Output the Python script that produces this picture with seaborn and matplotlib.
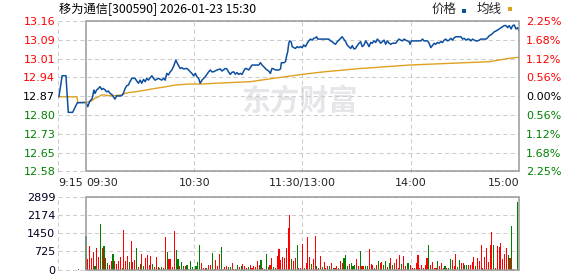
import matplotlib
matplotlib.use("Agg")
import matplotlib.pyplot as plt
import seaborn as sns
import pandas as pd
from matplotlib.patches import Rectangle

sns.set_theme(style="white")
plt.rcParams['font.family'] = ['DejaVu Sans', 'Noto Sans CJK SC']

# ---------------- data ----------------
title_text = "移为通信[300590] 2026-01-23 15:30"
legend_labels = ["价格", "均线"]
watermark = "东方财富"
prev_close = 12.87
half_range = 0.2896

price_tick_labels = ["12.58", "12.65", "12.73", "12.80", "12.87", "12.94", "13.01", "13.09", "13.16"]
pct_tick_labels = ["2.25%", "1.68%", "1.12%", "0.56%", "0.00%", "0.56%", "1.12%", "1.68%", "2.25%"]
vol_tick_values = [0, 725, 1450, 2174, 2899]
time_tick_min = [-15.5, 0, 60, 120, 180, 240]
time_tick_labels = ["9:15", "09:30", "10:30", "11:30/13:00", "14:00", "15:00"]

# minutes from 09:30 (negative = pre-market auction), price
price_min = [-15, -13.2, -11.1, -9.8, -7.4, -4.8, 0, 1, 2, 3.5, 4.4, 5, 5.9, 6.9, 7.8, 8.7,
             9.6, 10.6, 11.5, 12.4, 13.3, 14.3, 15.2, 16.1, 17, 18, 19.8, 20.7, 21.7, 22.6,
             23.5, 24.4, 25.4, 27.2, 28.1, 29.1, 30, 30.9, 31.9, 32.8, 33.7, 34.6, 35.6, 36.5,
             37.4, 38.3, 40.2, 42, 43, 43.9, 44.8, 45.7, 46.7, 47.6, 48.5, 49.8, 50.9, 52.2,
             53.1, 54.1, 55.9, 56.9, 57.8, 58.7, 59.6, 60.6, 61.5, 62.4, 63.3, 64.3, 65.2, 66.1,
             67, 68, 68.9, 69.8, 70.7, 72.6, 74.4, 75.4, 77.2, 78.1, 79, 80, 80.9, 81.9, 82.8,
             83.7, 84.6, 85.6, 86.5, 87.4, 88.3, 89.3, 90.2, 91.1, 92, 94.8, 95.7, 96.7, 97.6,
             98.5, 99.4, 100.4, 101.3, 102.2, 103.1, 104.1, 105, 106.9, 107.8, 108.3, 109.6,
             110.6, 111.1, 111.8, 112.4, 112.9, 113.7, 114.3, 115.2, 116.1, 117, 118, 118.9,
             119.8, 120.7, 121.7, 122.6, 123.5, 124.4, 125.4, 126.3, 127.2, 127.8, 128.5, 130,
             132.8, 134.6, 135.6, 136.5, 137.4, 138.3, 139.3, 140.2, 141.1, 142, 142.9, 143.9,
             144.8, 145.7, 146.7, 147.6, 148.5, 149.4, 150.4, 151.3, 152.2, 153.1, 154.1,
             155, 155.9, 156.9, 157.8, 158.7, 159.6, 160.6, 161.5, 162.4, 163.3, 164.3, 165.2,
             166.1, 167, 168, 168.9, 169.8, 171.7, 172.6, 173.5, 174.4, 175.4, 176.3, 177.2,
             178.1, 179.1, 179.6, 180.4, 182.8, 185.6, 186.5, 187.4, 189.3, 190.2, 191.1, 192,
             193, 193.9, 194.8, 195.7, 196.7, 197.6, 198.5, 199.4, 200.4, 201.3, 202.2, 203.1,
             204.1, 205, 206.9, 207.8, 208.7, 209.6, 210.6, 211.5, 212.4, 213.3, 214.3, 215.2,
             216.1, 217, 218, 218.9, 219.8, 221.7, 222.6, 223.5, 224.4, 225.4, 226.3, 227.2,
             228.1, 229.1, 230, 230.9, 231.9, 232.8, 233.7, 234.6, 235.6, 236.5, 237.4, 238.3,
             239.3, 240]
price_val = [12.868, 12.949, 12.949, 12.808, 12.808, 12.845, 12.846, 12.830, 12.849, 12.862,
             12.894, 12.881, 12.894, 12.900, 12.907, 12.896, 12.900, 12.894, 12.887, 12.890,
             12.881, 12.877, 12.868, 12.859, 12.872, 12.871, 12.872, 12.881, 12.900, 12.911,
             12.913, 12.926, 12.939, 12.939, 12.929, 12.920, 12.932, 12.920, 12.935, 12.926,
             12.939, 12.932, 12.941, 12.949, 12.939, 12.932, 12.939, 12.932, 12.939, 12.932,
             12.958, 12.952, 12.964, 12.971, 12.984, 13.009, 12.993, 12.977, 12.980, 12.975,
             12.977, 12.971, 12.964, 12.958, 12.949, 12.958, 12.945, 12.939, 12.920, 12.932,
             12.939, 12.945, 12.954, 12.964, 12.971, 12.964, 12.964, 12.971, 12.975, 12.967,
             12.977, 12.975, 12.964, 12.954, 12.962, 12.964, 12.955, 12.961, 12.954, 12.958,
             12.954, 12.967, 12.977, 12.975, 12.971, 12.980, 12.990, 12.990, 12.990, 12.999,
             12.990, 12.984, 12.977, 12.971, 12.967, 12.958, 12.977, 12.975, 12.971, 12.971,
             12.975, 12.999, 12.999, 13.003, 13.022, 13.041, 13.074, 13.083, 13.080, 13.061,
             13.057, 13.054, 13.061, 13.057, 13.061, 13.057, 13.067, 13.061, 13.074, 13.083,
             13.090, 13.086, 13.093, 13.095, 13.099, 13.090, 13.090, 13.090, 13.090, 13.083,
             13.080, 13.074, 13.070, 13.080, 13.086, 13.093, 13.099, 13.090, 13.080, 13.067,
             13.061, 13.054, 13.065, 13.052, 13.054, 13.065, 13.074, 13.080, 13.061, 13.067,
             13.083, 13.074, 13.061, 13.077, 13.074, 13.083, 13.077, 13.090, 13.083, 13.074,
             13.080, 13.086, 13.070, 13.083, 13.074, 13.070, 13.074, 13.074, 13.083, 13.090,
             13.086, 13.083, 13.090, 13.086, 13.083, 13.080, 13.070, 13.083, 13.083, 13.083,
             13.090, 13.083, 13.083, 13.074, 13.057, 13.065, 13.074, 13.070, 13.077, 13.074,
             13.080, 13.077, 13.086, 13.090, 13.083, 13.086, 13.093, 13.086, 13.095, 13.099,
             13.099, 13.099, 13.090, 13.093, 13.086, 13.090, 13.090, 13.083, 13.090, 13.086,
             13.083, 13.083, 13.086, 13.090, 13.090, 13.090, 13.095, 13.103, 13.106, 13.112,
             13.118, 13.121, 13.125, 13.129, 13.134, 13.138, 13.142, 13.142, 13.134, 13.142,
             13.129, 13.142, 13.144, 13.129, 13.134, 13.121]

avg_min = [-15, -5, -4.5, 0, 3.1, 5, 6.9, 8.7, 10.6, 12.4, 15.2, 19.8, 21.7, 23.5, 27.2, 30.9,
           36.5, 42, 49.4, 56.9, 64.3, 71.7, 91, 105, 119.8, 124.4, 131.9, 143, 152.2, 155,
           179, 203, 223.5, 234.6, 240]
avg_val = [12.868, 12.868, 12.846, 12.846, 12.852, 12.862, 12.868, 12.875, 12.875, 12.872,
           12.872, 12.875, 12.881, 12.884, 12.887, 12.891, 12.898, 12.904, 12.913, 12.917,
           12.917, 12.920, 12.926, 12.940, 12.954, 12.958, 12.964, 12.971, 12.977, 12.978,
           12.990, 12.997, 13.003, 13.016, 13.020]

# volume per minute (index 0 = 09:30), direction r = up, g = down
vol_val = [1337, 424, 940, 477, 702, 159, 874, 516, 1827, 874,
           940, 463, 252, 199, 357, 622, 344, 225, 344, 516,
           79, 1575, 344, 543, 305, 1152, 305, 384, 874, 119,
           225, 622, 159, 477, 583, 185, 543, 225, 106, 516,
           106, 79, 106, 66, 1311, 702, 424, 424, 119, 1536,
           781, 424, 146, 305, 146, 159, 185, 26, 344, 119,
           26, 146, 305, 980, 265, 53, 79, 66, 199, 199,
           662, 26, 371, 146, 622, 900, 26, 106, 146, 106,
           106, 265, 26, 26, 185, 106, 159, 225, 146, 66,
           106, 185, 66, 146, 106, 344, 185, 384, 66, 26,
           622, 106, 199, 463, 106, 66, 543, 821, 384, 503,
           463, 861, 1655, 2171, 424, 344, 463, 980, 53, 66,
           1020, 66, 265, 1298, 503, 225, 424, 1337, 146, 66,
           543, 119, 305, 66, 146, 146, 265, 66, 66, 146,
           66, 344, 265, 477, 583, 146, 225, 265, 146, 185,
           424, 146, 741, 146, 146, 159, 146, 821, 225, 185,
           66, 185, 344, 265, 305, 185, 344, 106, 265, 463,
           185, 265, 424, 66, 583, 225, 543, 146, 265, 265,
           185, 53, 66, 265, 583, 66, 185, 66, 185, 463,
           980, 185, 305, 53, 66, 344, 146, 265, 53, 146,
           53, 66, 424, 384, 146, 622, 106, 384, 265, 265,
           185, 185, 185, 185, 305, 503, 146, 463, 344, 980,
           66, 503, 861, 305, 980, 1496, 980, 66, 940, 900,
           1059, 424, 622, 861, 583, 463, 1734, 26, 0, 2688]
vol_dir = list("grrrrgrrgr" "grgrrgrrrr" "grrrgrrrgr" "grgrrrrgrr" "grgrrgrrrr"
               "ggrggrgrgg" "rgggrrrgrr" "grrrrgrrrg" "grgrgrgrrr" "grrrrrrgrg"
               "ggrrgrrrrr" "rrrrgrrgrr" "rgrrrgrrgr" "rgrrrgrgrr" "grrgggrggg"
               "rrgrrggrrr" "grgrrggrgr" "grrrrgrrgg" "rrrrrrrrrr" "grrrrgrrrg"
               "rggrrrggrr" "ggrrrrgrrr" "rrrrrrgrrr" "rrrrgrgrrg")
vol_min = list(range(240))
pre_vol_min = [-4]
pre_vol_val = [30]
pre_vol_dir = ["g"]

# ---------------- figure ----------------
W, H = 578, 276
fig = plt.figure(figsize=(W / 100, H / 100), dpi=100)
fig.patch.set_facecolor("white")

def fx(px):
    return px / W

def fy(py):
    return 1 - py / H

ax = fig.add_axes([fx(58), fy(171.5), fx(519) - fx(58), fy(21) - fy(171.5)])
axv = fig.add_axes([fx(58), fy(269.5), fx(519) - fx(58), fy(197) - fy(269.5)])

grid_col = "#cccccc"
box_col = "#999999"
dash = (0, (4, 3))
xlo, xhi = -15.5, 240

# price panel
ylo, yhi = prev_close - half_range, prev_close + half_range
price_ticks = [prev_close + half_range * k / 4 for k in range(-4, 5)]

for yv in price_ticks:
    ax.axhline(yv, color=grid_col, lw=0.75, ls=dash, zorder=0.5, clip_on=False)
for xv in [xlo, 60, 120, 180]:
    ax.axvline(xv, color=grid_col, lw=0.75, ls=dash, zorder=0.5, clip_on=False)

# faint watermark (text placed in figure pixel space)
ax.text(fx(241), fy(101), watermark, transform=fig.transFigure, ha="left", va="center",
        fontsize=21, fontweight="bold", color="#e6e6ea",
        family=["Noto Sans CJK SC", "DejaVu Sans"], zorder=0.3)

pdf = pd.DataFrame({"t": price_min, "p": price_val})
adf = pd.DataFrame({"t": avg_min, "p": avg_val})
sns.lineplot(data=adf, x="t", y="p", ax=ax, color="#E0A020", lw=1.0, estimator=None, zorder=2)
sns.lineplot(data=pdf, x="t", y="p", ax=ax, color="#0D4FA0", lw=1.1, estimator=None, zorder=3)

ax.add_patch(Rectangle((0, ylo), 240, yhi - ylo, fill=False, edgecolor=box_col, lw=1.1,
                       zorder=4, clip_on=False))
ax.set_xlim(xlo, xhi)
ax.set_ylim(ylo, yhi)
for s in ax.spines.values():
    s.set_visible(False)
ax.set_xlabel("")
ax.set_ylabel("")
ax.set_yticks(price_ticks)
ax.set_yticklabels(price_tick_labels)
ax.tick_params(axis="y", length=0, pad=2, labelsize=8)
for i, lab in enumerate(ax.get_yticklabels()):
    lab.set_color("#FF0000" if i > 4 else ("#000000" if i == 4 else "#008000"))
ax.set_xticks(time_tick_min)
ax.set_xticklabels(time_tick_labels)
ax.tick_params(axis="x", length=0, pad=5, labelsize=8)
xl = ax.get_xticklabels()
xl[0].set_ha("left")
xl[1].set_ha("left")
xl[-1].set_ha("right")

axr = ax.twinx()
axr.set_ylim(ylo, yhi)
axr.set_yticks(price_ticks)
axr.set_yticklabels(pct_tick_labels)
axr.tick_params(axis="y", length=0, pad=5, labelsize=8)
for s in axr.spines.values():
    s.set_visible(False)
for i, lab in enumerate(axr.get_yticklabels()):
    lab.set_color("#FF0000" if i > 4 else ("#000000" if i == 4 else "#008000"))

# volume panel
for yv in vol_tick_values:
    axv.axhline(yv, color=grid_col, lw=0.75, ls=dash, zorder=0.5, clip_on=False)
for xv in [xlo, 60, 120, 180]:
    axv.axvline(xv, color=grid_col, lw=0.75, ls=dash, zorder=0.5, clip_on=False)

vdf = pd.DataFrame({"t": pre_vol_min + vol_min, "v": pre_vol_val + vol_val,
                    "d": pre_vol_dir + vol_dir})
sns.barplot(data=vdf, x="t", y="v", hue="d", palette={"r": "#FF0000", "g": "#008000"},
            native_scale=True, dodge=False, width=0.6, errorbar=None, legend=False,
            saturation=1, linewidth=0, antialiased=False, ax=axv, zorder=2)
axv.add_patch(Rectangle((0, 0), 240, vol_tick_values[-1], fill=False, edgecolor=box_col,
                        lw=1.1, zorder=4, clip_on=False))
axv.set_xlim(xlo, xhi)
axv.set_ylim(0, vol_tick_values[-1])
for s in axv.spines.values():
    s.set_visible(False)
axv.set_xlabel("")
axv.set_ylabel("")
axv.set_xticks([])
axv.set_yticks(vol_tick_values)
axv.set_yticklabels([str(v) for v in vol_tick_values])
axv.tick_params(axis="y", length=0, pad=2, labelsize=8, labelcolor="#000022")

# title and legend
cjk = ["Noto Sans CJK SC", "DejaVu Sans"]
fig.text(fx(59), fy(9.5), title_text, ha="left", va="center", fontsize=8.8, family=cjk,
         color="#000000")
fig.text(fx(432), fy(9.5), legend_labels[0], ha="left", va="center", fontsize=9, family=cjk)
fig.text(fx(477), fy(9.5), legend_labels[1], ha="left", va="center", fontsize=9, family=cjk)
fig.add_artist(Rectangle((fx(462), fy(12.5)), fx(4), fy(0) - fy(4), transform=fig.transFigure,
                         facecolor="#0D4FA0", edgecolor="none"))
fig.add_artist(Rectangle((fx(508), fy(10.5)), fx(4), fy(0) - fy(4), transform=fig.transFigure,
                         facecolor="#E0A020", edgecolor="none"))

fig.savefig("out.png", dpi=100, facecolor="white")
